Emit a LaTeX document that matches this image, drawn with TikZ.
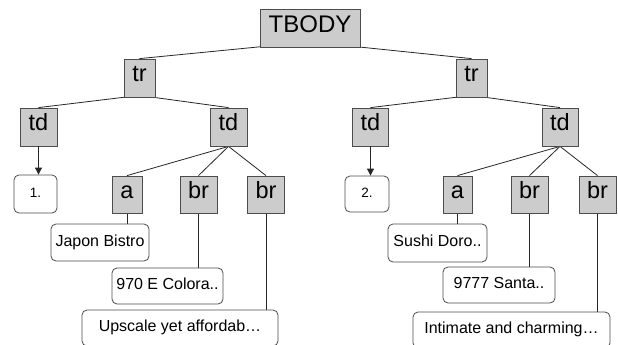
\documentclass[tikz,border=0pt]{standalone}
\usepackage{fontspec}
\setmainfont{Liberation Sans}
\usetikzlibrary{arrows.meta,backgrounds}
\begin{document}
\begin{tikzpicture}[x=1pt,y=-1pt,
  tag/.style={draw=black!70, fill=black!20, line width=0.8pt, inner sep=0pt,
    minimum height=38pt, text height=0.72em, text depth=0pt,
    font=\fontsize{23.5}{23.5}\selectfont},
  txt/.style={draw=black!70, fill=white, line width=0.8pt, rounded corners=5pt, inner sep=0pt,
    minimum height=37pt, text height=0.72em, text depth=0pt,
    font=\fontsize{16}{16}\selectfont},
  num/.style={txt, font=\fontsize{13.5}{13.5}\selectfont},
  link/.style={draw=black!85, line width=0.8pt},
  arr/.style={link, -{Triangle[length=7pt,width=7pt]}}
]
\useasboundingbox (0,0) rectangle (618,345);
% tag nodes
\node[tag, minimum width=100pt, font=\fontsize{24}{24}\selectfont] (tbody) at (310,28.5) {TBODY};
\node[tag, minimum width=31pt] (trL) at (139.5,78) {tr};
\node[tag, minimum width=31pt] (trR) at (471.5,78) {tr};
\node[tag, minimum width=37pt] (tdLL) at (38.5,127) {td};
\node[tag, minimum width=37pt] (tdLR) at (228.5,127) {td};
\node[tag, minimum width=36pt] (tdRL) at (370.5,127) {td};
\node[tag, minimum width=36pt] (tdRR) at (560,127) {td};
\node[tag, minimum width=30pt, minimum height=37pt] (aL) at (127,194.5) {a};
\node[tag, minimum width=37pt, minimum height=37pt] (brL1) at (198.5,194.5) {br};
\node[tag, minimum width=37pt, minimum height=37pt] (brL2) at (266,194.5) {br};
\node[tag, minimum width=29pt, minimum height=37pt] (aR) at (457.5,194.5) {a};
\node[tag, minimum width=37pt, minimum height=37pt] (brR1) at (529.5,194.5) {br};
\node[tag, minimum width=37pt, minimum height=37pt] (brR2) at (597.5,194.5) {br};
% text nodes
\node[num, minimum width=43pt, minimum height=38pt] (n1) at (35.5,194) {1.};
\node[num, minimum width=44pt, minimum height=36pt] (n2) at (367,194) {2.};
\node[txt, minimum width=98pt] (japon) at (100,242.5) {Japon Bistro};
\node[txt, minimum width=111pt, minimum height=36pt] (colora) at (167.5,286) {970 E Colora..};
\node[txt, minimum width=196pt, minimum height=36pt] (upscale) at (180,328) {Upscale yet affordab…};
\node[txt, minimum width=99pt, minimum height=38pt] (sushi) at (437.5,243) {Sushi Doro..};
\node[txt, minimum width=112pt, minimum height=36pt] (santa) at (499,285) {9777 Santa..};
\node[txt, minimum width=197pt, minimum height=36pt] (intimate) at (511.5,330) {Intimate and charming…};
% connectors
\begin{scope}[on background layer]
\draw[link] ([yshift=6pt]tbody.south) -- (trL.north);
\draw[link] ([yshift=6pt]tbody.south) -- (trR.north);
\draw[link] ([yshift=2pt]trL.south) -- (tdLL.north);
\draw[link] ([yshift=2pt]trL.south) -- (tdLR.north);
\draw[link] ([yshift=2pt]trR.south) -- (tdRL.north);
\draw[link] ([yshift=2pt]trR.south) -- (tdRR.north);
\draw[link] (tdLR.south) -- (aL.north);
\draw[link] (tdLR.south) -- (brL1.north);
\draw[link] (tdLR.south) -- (brL2.north);
\draw[link] (tdRR.south) -- (aR.north);
\draw[link] (tdRR.south) -- (brR1.north);
\draw[link] (tdRR.south) -- (brR2.north);
\draw[link] (aL.south) -- (aL.south |- japon.north);
\draw[link] (brL1.south) -- (brL1.south |- colora.north);
\draw[link] (brL2.south) -- (brL2.south |- upscale.north);
\draw[link] (aR.south) -- (aR.south |- sushi.north);
\draw[link] (brR1.south) -- (brR1.south |- santa.north);
\draw[link] (brR2.south) -- (brR2.south |- intimate.north);
\end{scope}
\draw[arr] (tdLL.south) -- (tdLL.south |- n1.north);
\draw[arr] (tdRL.south) -- (tdRL.south |- n2.north);
\end{tikzpicture}
\end{document}
